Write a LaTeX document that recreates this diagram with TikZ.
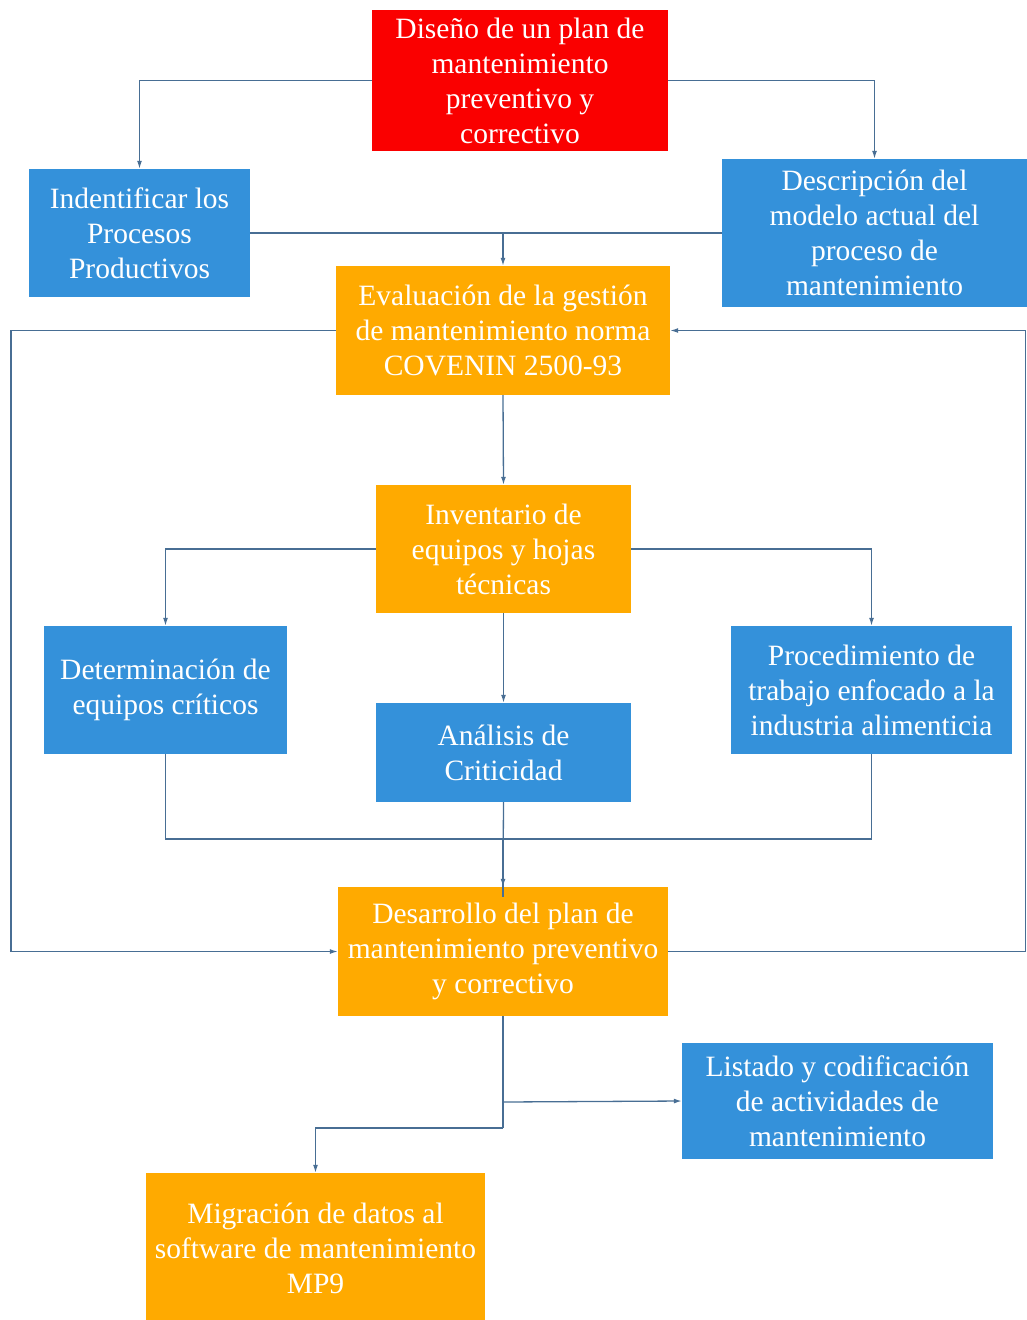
\documentclass[tikz,border=0pt]{standalone}
\usepackage{fontspec}
\setmainfont{Liberation Serif}[Ligatures=TeX]
\usetikzlibrary{arrows.meta}
\definecolor{boxblue}{RGB}{52,145,218}
\definecolor{boxorange}{RGB}{255,170,0}
\definecolor{boxred}{RGB}{250,0,0}
\definecolor{linec}{RGB}{72,110,148}
\tikzset{
  box/.style={rectangle, inner sep=0pt, align=center, text=white,
    font=\rmfamily\fontsize{29.5}{35}\selectfont},
  bluebox/.style={box, fill=boxblue},
  orangebox/.style={box, fill=boxorange},
  redbox/.style={box, fill=boxred},
  link/.style={draw=linec, line width=1.3pt},
  conn/.style={link, -{Latex[length=8pt,width=5pt]}},
}
\begin{document}
\begin{tikzpicture}[x=1pt,y=-1pt]
\useasboundingbox (0,0) rectangle (1027,1320);
\begin{scope}
\clip (0,0) rectangle (1027,1320);
\node[redbox, minimum width=296pt, minimum height=141pt] (dis) at (520,80.5)
  {Diseño de un plan de\\mantenimiento\\preventivo y\\correctivo};
\node[bluebox, minimum width=221pt, minimum height=128pt] (ind) at (139.5,233)
  {Indentificar los\\Procesos\\Productivos};
\node[bluebox, minimum width=305pt, minimum height=148pt] (desc) at (874.5,233)
  {Descripción del\\modelo actual del\\proceso de\\mantenimiento};
\node[orangebox, minimum width=334pt, minimum height=129pt] (eval) at (503,330.5)
  {Evaluación de la gestión\\de mantenimiento norma\\COVENIN 2500-93};
\node[orangebox, minimum width=255pt, minimum height=128pt] (inv) at (503.5,549)
  {Inventario de\\equipos y hojas\\técnicas};
\node[bluebox, minimum width=243pt, minimum height=128pt] (det) at (165.5,690)
  {Determinación de\\equipos críticos};
\node[bluebox, minimum width=255pt, minimum height=99pt] (ana) at (503.5,752.5)
  {Análisis de\\Criticidad};
\node[bluebox, minimum width=281pt, minimum height=128pt] (proc) at (871.5,690)
  {Procedimiento de\\trabajo enfocado a la\\industria alimenticia};
\node[orangebox, minimum width=330pt, minimum height=129pt] (des) at (503,951.5)
  {Desarrollo del plan de\\mantenimiento preventivo\\y correctivo};
\node[bluebox, minimum width=311pt, minimum height=116pt] (list) at (837.5,1101)
  {Listado y codificación\\de actividades de\\mantenimiento};
\node[orangebox, minimum width=339pt, minimum height=150pt] (mig) at (315.5,1248)
  {Migración de datos al\\software de mantenimiento\\MP9};
\end{scope}
% junction coordinates
\coordinate (j1) at (ind.east -| eval.north);
\coordinate (j2) at (503,839);
\coordinate (j3) at (503,1102);
\coordinate (j4) at (503,1128);
\coordinate (fbL) at (11,640);
\coordinate (fbR) at (1025.5,640);
% connectors
\draw[conn] (dis.west) -| (ind.north);
\draw[conn] (dis.east) -| (desc.north);
\draw[link] (ind.east) -- (desc.west);
\draw[conn] (j1) -- (eval.north);
\draw[conn] (eval.south) -- (inv.north);
\draw[conn] (inv.west) -| (det.north);
\draw[conn] (inv.east) -| (proc.north);
\draw[conn] (inv.south) -- (ana.north);
\draw[link] (det.south) |- (j2) -| (proc.south);
\draw[conn] (ana.south) -- (des.north);
\draw[link, line width=2pt] (j2) -- ([yshift=-10pt]des.north);
\draw[conn] (eval.west) -| (fbL) |- (des.west);
\draw[conn] (des.east) -| (fbR) |- (eval.east);
\draw[link] (des.south) -- (j4);
\draw[conn] (j4) -| (mig.north);
\draw[conn] (j3) -- (list.west);
\end{tikzpicture}
\end{document}
